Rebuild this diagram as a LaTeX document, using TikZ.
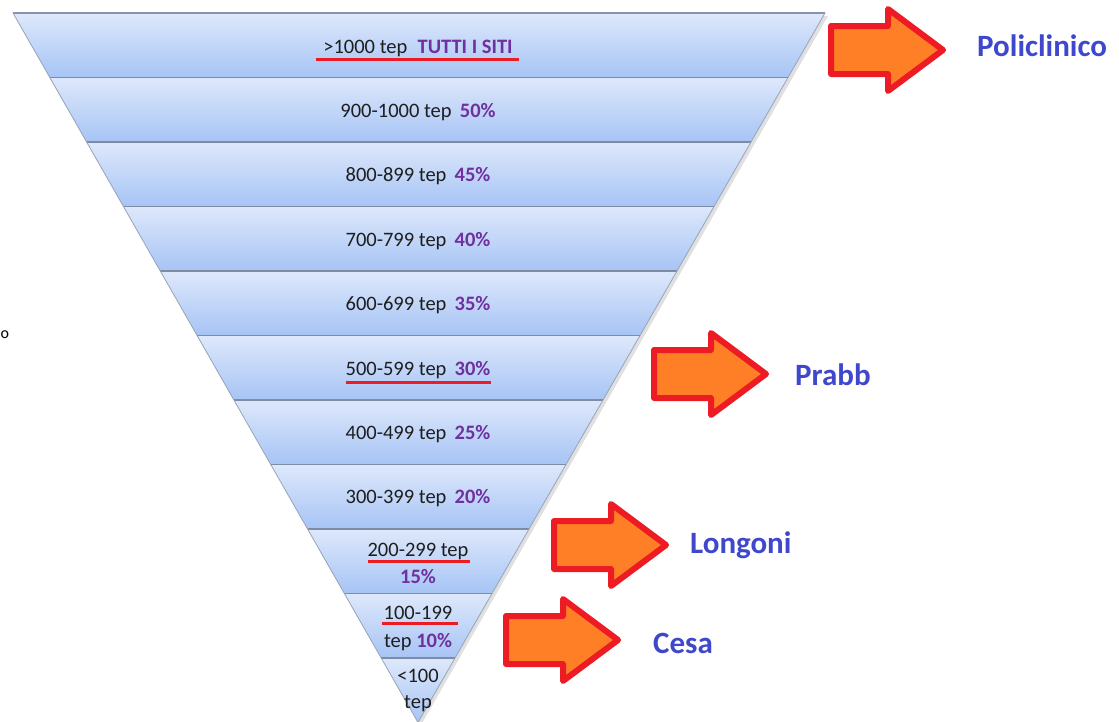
\documentclass[tikz,border=0pt]{standalone}
\usepackage{fontspec}
\setmainfont{Carlito}
\definecolor{bandtop}{RGB}{222,232,251}
\definecolor{bandbot}{RGB}{166,196,245}
\definecolor{bandline}{RGB}{125,140,165}
\definecolor{purp}{RGB}{112,48,160}
\definecolor{txt}{RGB}{30,30,30}
\definecolor{arrfill}{RGB}{255,127,39}
\definecolor{arrdraw}{RGB}{237,28,36}
\definecolor{labblue}{RGB}{63,72,204}
\tikzset{
  bandlab/.style={inner sep=0pt, text=txt, font=\fontsize{20.5}{22}\selectfont, anchor=base},
  uline/.style={draw=arrdraw, line width=3pt},
  arrsty/.style={fill=arrfill, draw=arrdraw, line width=6pt, line join=round},
  bigarrow/.pic={\draw[arrsty] (0,0) -- (-55,-41) -- (-55,-24) -- (-112,-24) -- (-112,24) -- (-55,24) -- (-55,41) -- cycle;},
  sitelab/.style={inner sep=0pt, anchor=base west, text=labblue, font=\bfseries\fontsize{31}{33}\selectfont}
}
\newcommand{\pc}[1]{\textcolor{purp}{\bfseries #1}}
\begin{document}
\begin{tikzpicture}[x=1pt,y=-1pt]
\useasboundingbox (0,0) rectangle (1119,721);
\fill[white] (0,0) rectangle (1119,721);
% shadow
\fill[black,opacity=0.12] (15,16) -- (828,16) -- (421,725) -- cycle;
% bands
\foreach \k in {0,...,10}{
  \pgfmathsetmacro{\ya}{13+\k*64.5}
  \pgfmathsetmacro{\yb}{13+(\k+1)*64.5}
  \pgfmathsetmacro{\xla}{13+(\ya-13)/709.5*405}
  \pgfmathsetmacro{\xra}{825-(\ya-13)/709.5*407}
  \pgfmathsetmacro{\xlb}{13+(\yb-13)/709.5*405}
  \pgfmathsetmacro{\xrb}{825-(\yb-13)/709.5*407}
  \shade[top color=bandtop, bottom color=bandbot] (\xla,\ya) -- (\xra,\ya) -- (\xrb,\yb) -- (\xlb,\yb) -- cycle;
  \draw[bandline, line width=1.3pt] (\xla,\ya) -- (\xra,\ya);
}
\draw[bandline!80, line width=0.8pt] (13,13) -- (825,13) -- (418,722.5) -- cycle;
% band labels
\node[bandlab] (t1) at (418,53) {>1000 tep\hspace{0.5em}\textcolor{purp}{\bfseries TUTTI I SITI}};
\node[bandlab] (t2) at (418,117) {900-1000 tep\hspace{0.4em}\pc{50\%}};
\node[bandlab] (t3) at (418,181) {800-899 tep\hspace{0.4em}\pc{45\%}};
\node[bandlab] (t4) at (418,246) {700-799 tep\hspace{0.4em}\pc{40\%}};
\node[bandlab] (t5) at (418,310) {600-699 tep\hspace{0.4em}\pc{35\%}};
\node[bandlab] (t6) at (418,375) {500-599 tep\hspace{0.4em}\pc{30\%}};
\node[bandlab] (t7) at (418,439) {400-499 tep\hspace{0.4em}\pc{25\%}};
\node[bandlab] (t8) at (418,503) {300-399 tep\hspace{0.4em}\pc{20\%}};
\node[bandlab] (t9a) at (418,556) {200-299 tep};
\node[bandlab] (t9b) at (418,583) {\pc{15\%}};
\node[bandlab] (t10a) at (418,619) {100-199};
\node[bandlab] (t10b) at (418,647) {tep \pc{10\%}};
\node[bandlab] (t11a) at (418,682) {<100};
\node[bandlab] (t11b) at (418,708) {tep};
% underlines
\draw[uline] ([shift={(-102,6)}]t1.base) -- ([shift={(101,6)}]t1.base);
\draw[uline] ([shift={(-72,7)}]t6.base) -- ([shift={(73,7)}]t6.base);
\draw[uline] ([shift={(-50,5)}]t9a.base) -- ([shift={(52,5)}]t9a.base);
\draw[uline] ([shift={(-36,4)}]t10a.base) -- ([shift={(40,4)}]t10a.base);
% stray glyph at the left edge
\node[inner sep=0pt, anchor=base west, font=\fontsize{16}{18}\selectfont] (stray) at (0.5,338) {o};
% arrows
\pic (a1) at (943,50) {bigarrow};
\pic (a2) at (766,374) {bigarrow};
\pic (a3) at (666,545) {bigarrow};
\pic (a4) at (618,640) {bigarrow};
% site labels
\node[sitelab] (s1) at (977,56) {Policlinico};
\node[sitelab] (s2) at (795,385) {Prabb};
\node[sitelab] (s3) at (690,553) {Longoni};
\node[sitelab] (s4) at (653,653) {Cesa};
\end{tikzpicture}
\end{document}
